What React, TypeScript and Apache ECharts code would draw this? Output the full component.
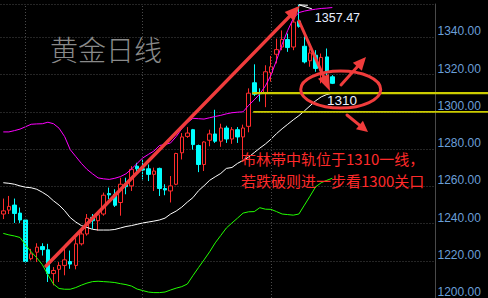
import React, { useEffect, useRef } from 'react';
import * as echarts from 'echarts';

// Daily gold candles (open, close, low, high)
const opens = [1245.1,1247.2,1249.9,1245.6,1241.9,1221.1,1224.6,1227.6,1225.9,1213.1,1215.4,1217.5,1219.6,1217.5,1229.1,1234.4,1243.3,1241.5,1245.1,1256.1,1255.7,1251.3,1261.1,1260.2,1270.8,1269.4,1269.4,1266.4,1269.6,1258.8,1257.5,1261.1,1278.0,1286.8,1290.4,1281.9,1271.7,1284.7,1288.1,1284.2,1291.3,1285.4,1290.4,1286.5,1292.2,1315.6,1310.2,1310.0,1321.0,1330.9,1334.8,1338.8,1334.8,1348.7,1335.2,1327.4,1330.4,1322.0,1329.5,1318.8];
const closes = [1246.8,1249.2,1245.4,1241.9,1219.6,1223.7,1227.3,1226.0,1213.1,1214.8,1217.5,1220.5,1218.2,1229.1,1234.4,1242.8,1241.5,1244.7,1255.2,1255.4,1249.8,1261.1,1259.8,1269.1,1269.4,1268.7,1266.4,1268.2,1258.8,1258.0,1260.2,1277.6,1286.5,1288.6,1282.4,1271.7,1283.8,1288.1,1284.2,1291.3,1285.4,1290.4,1286.5,1291.3,1310.0,1309.4,1309.7,1321.5,1324.2,1333.4,1338.8,1334.5,1348.2,1345.9,1326.8,1331.6,1323.3,1329.2,1321.0,1315.3];
const lows = [1242.4,1245.1,1240.3,1240.3,1219.0,1220.2,1219.3,1222.8,1208.6,1206.8,1208.6,1212.2,1215.7,1215.4,1228.2,1233.5,1237.1,1236.2,1244.2,1253.1,1248.9,1244.2,1255.7,1257.5,1266.4,1263.7,1262.8,1257.5,1254.8,1255.2,1251.3,1260.6,1274.4,1286.0,1279.7,1267.6,1268.2,1281.5,1283.3,1281.2,1283.3,1282.8,1283.3,1274.4,1289.0,1308.5,1305.5,1302.5,1316.2,1326.0,1333.1,1332.2,1333.1,1345.2,1326.0,1324.2,1321.5,1315.3,1319.7,1314.9];
const highs = [1253.4,1254.8,1253.4,1248.6,1242.5,1226.4,1229.4,1229.4,1229.1,1216.6,1219.3,1226.4,1225.5,1232.1,1236.2,1245.1,1245.1,1245.1,1256.6,1259.3,1258.4,1264.6,1264.6,1270.8,1272.6,1274.4,1271.7,1270.0,1270.0,1261.1,1265.5,1278.0,1288.6,1291.8,1290.8,1282.4,1284.2,1290.4,1301.1,1293.6,1292.5,1291.8,1291.8,1293.1,1312.6,1325.5,1312.6,1325.0,1330.0,1339.3,1343.7,1342.0,1350.0,1357.47,1340.5,1334.0,1333.1,1331.3,1334.0,1319.7];

// Bollinger bands
const upperBand = [1289.2,1289.2,1289.9,1290.7,1292.0,1293.3,1293.5,1293.6,1294.4,1293.6,1291.2,1286.7,1279.7,1276.0,1272.3,1269.1,1266.7,1264.5,1264.0,1263.7,1264.3,1265.2,1266.7,1269.3,1272.3,1275.2,1277.1,1278.9,1281.9,1282.4,1283.3,1286.7,1290.9,1294.1,1296.5,1296.3,1296.1,1296.8,1297.5,1298.1,1298.9,1299.5,1299.8,1300.0,1303.5,1306.4,1309.6,1313.9,1319.7,1327.7,1336.3,1343.7,1350.1,1353.3,1354.1,1354.7,1355.1,1355.5,1355.7,1356.0];
const midBand = [1261.9,1261.6,1261.1,1260.2,1259.5,1259.2,1258.4,1256.8,1254.9,1252.2,1249.9,1246.9,1243.2,1240.8,1238.9,1237.9,1236.9,1236.5,1236.5,1236.5,1236.8,1237.6,1238.4,1238.9,1239.6,1240.3,1240.8,1241.3,1241.9,1242.9,1245.1,1246.7,1248.8,1251.5,1253.9,1257.6,1260.3,1263.2,1265.1,1266.9,1269.6,1270.1,1272.3,1273.9,1275.7,1278.1,1280.5,1282.7,1285.3,1288.3,1290.9,1293.3,1295.7,1297.9,1300.5,1303.2,1305.9,1308.0,1309.3,1310.0];
const lowerBand = [1234.7,1233.9,1233.3,1232.5,1228.5,1224.8,1221.6,1217.9,1212.5,1207.5,1205.1,1204.7,1204.7,1205.6,1206.9,1208.0,1208.8,1209.0,1208.8,1208.6,1208.3,1207.7,1207.2,1206.4,1204.8,1204.0,1203.2,1202.9,1202.9,1203.2,1204.3,1205.3,1206.1,1207.5,1212.0,1216.3,1220.5,1224.8,1229.6,1233.6,1237.6,1240.3,1242.9,1245.6,1246.3,1246.4,1248.5,1247.7,1247.6,1246.4,1245.1,1244.8,1244.5,1245.1,1249.9,1254.7,1259.7,1261.9,1263.2,1264.3];

const slotCount = 78;
const monthStarts = [4, 25, 48];
const yMin = 1200;
const yMax = 1357.9;
const yStep = 20;
const supportLevels = [1310, 1300];
const highValue = 1357.47;
const highIndex = 53;
const title = '黄金日线';
const noteLines = ['布林带中轨位于1310一线，', '若跌破则进一步看1300关口'];
const midLabel = '1310';

const RED = '#f03c3c';

function arrow(x1: number, y1: number, x2: number, y2: number, w: number, hl: number, hw: number) {
  const dx = x2 - x1, dy = y2 - y1;
  const L = Math.hypot(dx, dy);
  const ux = dx / L, uy = dy / L;
  const bx = x2 - ux * hl, by = y2 - uy * hl;
  const nx = -uy, ny = ux;
  return [
    { type: 'line', z: 100, shape: { x1, y1, x2: bx + ux * 2, y2: by + uy * 2 }, style: { stroke: RED, lineWidth: w, lineCap: 'round' } },
    { type: 'polygon', z: 100, shape: { points: [[x2, y2], [bx + nx * hw, by + ny * hw], [bx - nx * hw, by - ny * hw]] }, style: { fill: RED } },
  ];
}

export default function App() {
  const ref = useRef<HTMLDivElement>(null);
  useEffect(() => {
    const chart = echarts.init(ref.current!, null, { renderer: 'svg' });
    const cats = Array.from({ length: slotCount }, (_, i) => String(i));
    const candleData = opens.map((o, i) => [o, closes[i], lows[i], highs[i]]);
    chart.setOption({
      animation: false,
      backgroundColor: '#000000',
      grid: { left: 0.5, right: 52.5, top: 4, bottom: -1.5 },
      xAxis: {
        type: 'category',
        data: cats,
        boundaryGap: true,
        axisLine: { show: false },
        axisTick: { show: false },
        axisLabel: { show: false },
        splitLine: { show: false },
      },
      yAxis: {
        type: 'value',
        position: 'right',
        min: yMin,
        max: yMax,
        interval: yStep,
        axisLine: { show: true, lineStyle: { color: '#4a4a4a', width: 1 } },
        axisTick: { show: false },
        axisLabel: {
          show: true,
          margin: 2,
          color: '#6a9fd8',
          fontSize: 12,
          fontFamily: 'Liberation Sans, Arial, sans-serif',
          verticalAlign: 'bottom',
          align: 'left',
          formatter: (v: number) => (Math.abs(v % yStep) < 1e-6 ? v.toFixed(2) : ''),
        },
        splitLine: { show: true, lineStyle: { color: '#4a4a4a', type: [1, 2], width: 1 } },
      },
      series: [
        {
          type: 'line',
          data: [],
          z: 0,
          markLine: {
            silent: true,
            symbol: 'none',
            label: { show: false },
            lineStyle: { color: '#4a4a4a', type: [1, 2], width: 1 },
            data: monthStarts.map((m) => ({ xAxis: String(m) })),
          },
        },
        {
          type: 'candlestick',
          data: candleData,
          barWidth: 4,
          z: 2,
          itemStyle: {
            color: '#000000',
            color0: '#00ffff',
            borderColor: '#ff2c2c',
            borderColor0: '#00ffff',
            borderWidth: 1,
          },
        },
        { type: 'line', data: upperBand, showSymbol: false, z: 3, lineStyle: { color: '#ff00ff', width: 1 } },
        { type: 'line', data: midBand, showSymbol: false, z: 3, lineStyle: { color: '#ffffff', width: 1 } },
        { type: 'line', data: lowerBand, showSymbol: false, z: 3, lineStyle: { color: '#22ff00', width: 1 } },
      ],
    });

    const px = (i: number, v: number) => chart.convertToPixel({ gridIndex: 0 }, [i, v]) as number[];
    const [hx, hy] = px(highIndex, highValue);
    const yA = px(0, supportLevels[0])[1];
    const yB = px(0, supportLevels[1])[1];
    const lineStart = px(45, supportLevels[0])[0] - 2;

    const graphics: any[] = [
      {
        type: 'text', z: 100, x: 50, y: 49,
        style: { text: title, fill: '#8a8a8a', fontSize: 28, fontWeight: 300, fontFamily: '"Noto Sans CJK SC", sans-serif', verticalAlign: 'middle', align: 'left' },
      },
      { type: 'line', z: 90, shape: { x1: lineStart, y1: yA, x2: 488, y2: yA }, style: { stroke: '#cccc00', lineWidth: 2.2 } },
      { type: 'line', z: 90, shape: { x1: lineStart + 1, y1: yB, x2: 488, y2: yB }, style: { stroke: '#cccc00', lineWidth: 1.7 } },
      { type: 'line', z: 100, shape: { x1: hx, y1: hy, x2: hx + 9, y2: hy + 0.5 }, style: { stroke: '#ffffff', lineWidth: 1 } },
      { type: 'line', z: 100, shape: { x1: hx, y1: hy, x2: hx + 13, y2: hy + 4 }, style: { stroke: '#ffffff', lineWidth: 1 } },
      {
        type: 'text', z: 100, x: hx + 16, y: hy + 13,
        style: { text: highValue.toFixed(2), fill: '#e6eeff', fontSize: 12.5, fontFamily: 'Liberation Sans, Arial, sans-serif', verticalAlign: 'middle', align: 'left' },
      },
      {
        type: 'text', z: 100, x: 327, y: 100,
        style: { text: midLabel, fill: '#eef2ff', fontSize: 13.5, fontFamily: 'Liberation Sans, Arial, sans-serif', verticalAlign: 'middle', align: 'left' },
      },
      { type: 'ellipse', z: 100, shape: { cx: 340.7, cy: 89.5, rx: 40, ry: 18.5 }, style: { fill: 'none', stroke: RED, lineWidth: 3 } },
      ...arrow(46, 266, hx + 1, hy + 1, 3.5, 15, 6.5),
      ...arrow(299, 21, 330, 91, 3, 16, 6),
      ...arrow(341, 85, 366, 57, 3, 13, 6),
      ...arrow(347, 115, 368, 132, 3, 11, 5.5),
      ...noteLines.map((t, k) => ({
        type: 'text', z: 100, x: 241, y: 158.5 + k * 21.5,
        style: { text: t, fill: '#ff2a2a', fontSize: 15, fontFamily: '"Noto Sans CJK SC", sans-serif', verticalAlign: 'middle', align: 'left' },
      })),
    ];
    chart.setOption({ graphic: graphics });
    return () => chart.dispose();
  }, []);
  return <div ref={ref} style={{ position: 'fixed', left: 0, top: 0, width: 488, height: 298, background: '#000' }} />;
}
